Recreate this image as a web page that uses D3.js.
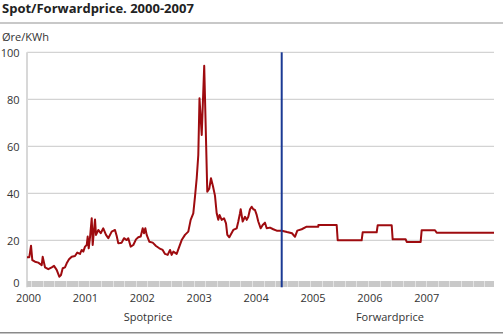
<!DOCTYPE html>
<html>
<head>
<meta charset="utf-8">
<script src="https://cdn.jsdelivr.net/npm/d3@7"></script>
<style>
  html, body { margin: 0; padding: 0; background: #fff; }
  svg { display: block; font-family: "Open Sans", sans-serif; }
</style>
</head>
<body>
<svg id="chart" width="503" height="334"></svg>
<script>
// ---- Data ----
const title = "Spot/Forwardprice. 2000-2007";
const unitLabel = "Øre/KWh";
const yearTicks = [2000, 2001, 2002, 2003, 2004, 2005, 2006, 2007];
const valueTicks = [0, 20, 40, 60, 80, 100];
const sectionLabels = ["Spotprice", "Forwardprice"];
const boundaryTime = 2004.459;

// Spot price (fractional year, øre/kWh)
const spotTime = [
  1999.982, 2000.023, 2000.053, 2000.076, 2000.123, 2000.181, 2000.241, 2000.258, 2000.299, 2000.357,
  2000.417, 2000.457, 2000.504, 2000.550, 2000.580, 2000.610, 2000.650, 2000.680, 2000.721, 2000.768,
  2000.826, 2000.866, 2000.914, 2000.944, 2000.972, 2001.002, 2001.032, 2001.049, 2001.067, 2001.090,
  2001.120, 2001.137, 2001.160, 2001.178, 2001.195, 2001.236, 2001.278, 2001.323, 2001.371, 2001.411,
  2001.471, 2001.529, 2001.559, 2001.587, 2001.647, 2001.687, 2001.735, 2001.763, 2001.805, 2001.851,
  2001.898, 2001.938, 2001.981, 2002.016, 2002.039, 2002.062, 2002.086, 2002.132, 2002.192, 2002.250,
  2002.308, 2002.367, 2002.408, 2002.455, 2002.496, 2002.525, 2002.554, 2002.613, 2002.659, 2002.701,
  2002.759, 2002.817, 2002.859, 2002.905, 2002.935, 2002.965, 2002.993, 2003.014, 2003.053, 2003.097,
  2003.151, 2003.186, 2003.216, 2003.251, 2003.286, 2003.316, 2003.344, 2003.366, 2003.404, 2003.445,
  2003.480, 2003.503, 2003.538, 2003.608, 2003.668, 2003.696, 2003.726, 2003.738, 2003.773, 2003.814,
  2003.844, 2003.872, 2003.902, 2003.931, 2003.960, 2003.989, 2004.019, 2004.047, 2004.090, 2004.125,
  2004.165, 2004.195, 2004.253, 2004.311, 2004.371, 2004.459
];
const spotValue = [
  12.8, 12.8, 17.7, 11.6, 10.9, 10.5, 9.4, 13.0, 8.5, 7.7,
  8.5, 9.1, 7.4, 4.5, 5.2, 8.1, 8.5, 10.2, 11.9, 13.0,
  13.3, 14.8, 14.2, 15.9, 15.2, 17.3, 18.0, 21.6, 16.6, 21.3,
  29.4, 18.0, 24.4, 28.9, 22.3, 24.4, 23.0, 25.1, 22.3, 20.9,
  23.7, 24.4, 21.8, 18.7, 19.0, 20.9, 20.1, 20.9, 17.3, 18.0,
  20.4, 21.3, 21.6, 25.1, 23.0, 25.1, 22.3, 19.4, 19.0, 17.6,
  16.6, 15.9, 14.2, 13.8, 15.9, 13.8, 15.2, 14.2, 17.3, 20.1,
  22.3, 23.7, 28.7, 31.5, 38.6, 46.4, 56.3, 80.4, 64.8, 94.3,
  40.7, 42.0, 46.4, 43.0, 39.0, 31.5, 28.7, 30.8, 28.7, 29.4,
  27.2, 22.3, 21.3, 24.4, 25.1, 28.0, 31.5, 33.2, 28.0, 30.0,
  28.7, 30.0, 33.2, 34.3, 33.2, 32.9, 30.8, 28.0, 25.1, 26.5,
  27.5, 25.1, 25.4, 24.7, 24.1, 24.1
];

// Forward price (fractional year, øre/kWh)
const fwdTime = [
  2004.459, 2004.552, 2004.640, 2004.692, 2004.733, 2004.810, 2004.898, 2005.102, 2005.103, 2005.425,
  2005.443, 2005.864, 2005.882, 2006.128, 2006.146, 2006.392, 2006.409, 2006.638, 2006.656, 2006.901,
  2006.919, 2007.153, 2007.183, 2008.190
];
const fwdValue = [
  24.1, 23.5, 23.0, 21.5, 24.1, 24.7, 25.8, 25.8, 26.5, 26.5,
  20.0, 20.0, 23.4, 23.4, 26.4, 26.4, 20.4, 20.4, 19.3, 19.3,
  24.3, 24.3, 23.2, 23.2
];

// ---- Chart ----
const svg = d3.select("#chart");
const x = d3.scaleLinear().domain([2000, 2008.19]).range([28, 494]);
const y = d3.scaleLinear().domain([0, 100]).range([287.3, 52.3]);
const left = 27, right = 494;

// Title
svg.append("text").attr("x", 2).attr("y", 13)
  .attr("font-size", 13).attr("font-weight", 700).attr("fill", "#222").text(title);
svg.append("rect").attr("x", 0).attr("y", 22).attr("width", 503).attr("height", 2).attr("fill", "#c8c8c8");
svg.append("text").attr("x", 2).attr("y", 40.5)
  .attr("font-size", 11).attr("fill", "#333").text(unitLabel);

// Gridlines
svg.append("g").selectAll("line").data(valueTicks.filter(d => d > 0)).join("line")
  .attr("x1", left).attr("x2", right)
  .attr("y1", d => y(d)).attr("y2", d => y(d))
  .attr("stroke", "#c8c8c8").attr("stroke-width", 1);

// Left axis line
svg.append("line").attr("x1", left).attr("x2", left).attr("y1", y(100)).attr("y2", y(0))
  .attr("stroke", "#d8d8d8").attr("stroke-width", 2);

// Y labels
svg.append("g").selectAll("text").data(valueTicks).join("text")
  .attr("x", 19.5).attr("y", d => y(d) + (d === 0 ? -0.8 : 5))
  .attr("text-anchor", "end").attr("font-size", 11).attr("fill", "#333")
  .text(d => d);

// Hatched bottom band (weekly minor ticks)
svg.append("rect").attr("x", left).attr("y", 281).attr("width", right - left).attr("height", 6)
  .attr("fill", "#e4e4e4");
const bandAxis = d3.axisTop(x)
  .tickValues(d3.range(1999.985, 2008.19, 1 / 52))
  .tickSize(6).tickFormat("");
const bandG = svg.append("g").attr("transform", `translate(0,287)`).call(bandAxis);
bandG.select(".domain").remove();
bandG.selectAll("line").attr("stroke", "#c9c9c9").attr("shape-rendering", "crispEdges");

// Year labels
const xAxis = d3.axisBottom(x).tickValues(yearTicks).tickFormat(d3.format("d")).tickSize(0);
const xg = svg.append("g").attr("transform", `translate(0,291)`).call(xAxis);
xg.select(".domain").remove();
xg.selectAll("text").attr("font-size", 11).attr("fill", "#333")
  .attr("font-family", "'Open Sans', sans-serif").attr("dy", "0.71em");

// Lines
const line = d3.line().x(d => x(d[0])).y(d => y(d[1]));
svg.append("path").datum(spotTime.map((t, i) => [t, spotValue[i]]))
  .attr("d", line).attr("fill", "none").attr("stroke", "#9e0b0f")
  .attr("stroke-width", 2).attr("stroke-linejoin", "round");
svg.append("path").datum(fwdTime.map((t, i) => [t, fwdValue[i]]))
  .attr("d", line).attr("fill", "none").attr("stroke", "#9e0b0f")
  .attr("stroke-width", 2).attr("stroke-linejoin", "round");

// Boundary line
svg.append("line").attr("x1", x(boundaryTime)).attr("x2", x(boundaryTime))
  .attr("y1", y(100)).attr("y2", y(0))
  .attr("stroke", "#1b3a94").attr("stroke-width", 2);

// Section labels
svg.append("text").attr("x", 148).attr("y", 321).attr("text-anchor", "middle")
  .attr("font-size", 11).attr("fill", "#333").text(sectionLabels[0]);
svg.append("text").attr("x", 390).attr("y", 321).attr("text-anchor", "middle")
  .attr("font-size", 11).attr("fill", "#333").text(sectionLabels[1]);

// Bottom rule
svg.append("rect").attr("x", 0).attr("y", 332).attr("width", 503).attr("height", 1.5).attr("fill", "#8a8a8a");
</script>
</body>
</html>
